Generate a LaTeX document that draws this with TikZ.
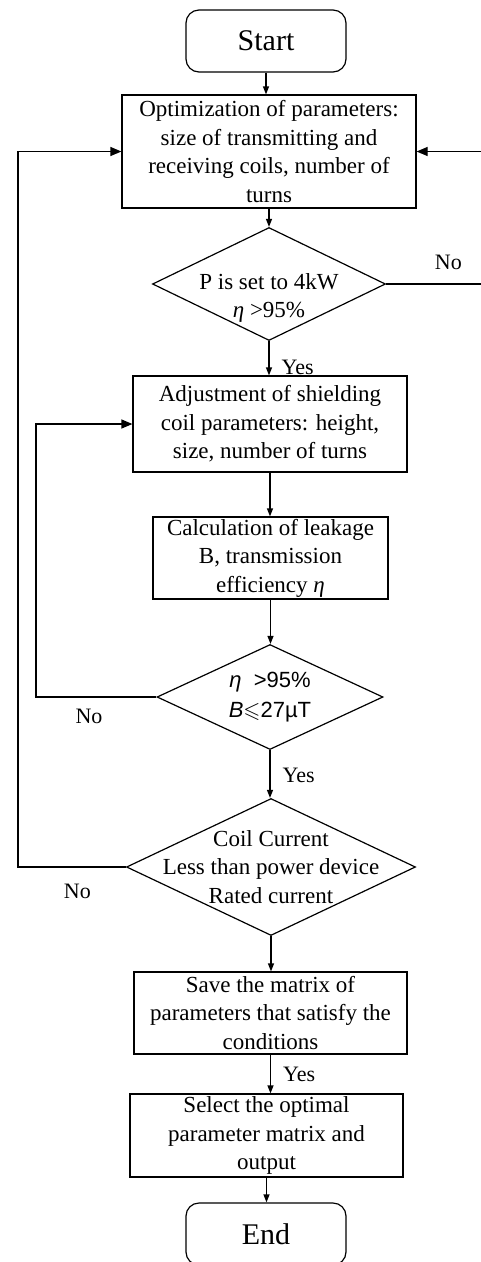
\documentclass[tikz,border=0pt]{standalone}
\usepackage{fontspec}
\usepackage{amssymb}
\setmainfont{Liberation Serif}
\newfontfamily\plainsans{Liberation Sans}
\usetikzlibrary{shapes.geometric,arrows.meta}

\tikzset{
  boxnode/.style={draw, rectangle, line width=1.2pt, align=center, inner sep=0pt,
    font=\fontsize{23}{28.5}\selectfont},
  termnode/.style={draw, rectangle, rounded corners=13pt, line width=1.2pt,
    minimum width=160pt, minimum height=62pt, font=\fontsize{30}{34}\selectfont},
  decide/.style={draw, diamond, line width=1.2pt, inner sep=0pt},
  decidetext/.style={align=center, inner sep=0pt, font=\fontsize{23}{28.5}\selectfont},
  arr/.style={-{Triangle[length=8pt,width=6pt]}, line width=1.2pt},
  backarr/.style={-{Triangle[length=11pt,width=9pt]}, line width=1.2pt},
  tag/.style={inner sep=2pt, font=\fontsize{22}{26}\selectfont}
}

\begin{document}
\begin{tikzpicture}[x=1pt, y=-1pt]
  \useasboundingbox (0,0) rectangle (480,1262);

  % Terminals
  \node[termnode] (start) at (266,41) {Start};
  \node[termnode] (end) at (266,1234) {End};

  % Process boxes
  \node[boxnode, minimum width=294pt, minimum height=113pt] (opt) at (269,151.5)
    {Optimization of parameters:\\ size of transmitting and\\ receiving coils, number of\\ turns};
  \node[boxnode, minimum width=274pt, minimum height=96pt] (adj) at (270,424)
    {Adjustment of shielding\\ coil parameters: height,\\ size, number of turns};
  \node[boxnode, minimum width=235pt, minimum height=82pt] (calc) at (270.5,558)
    {Calculation of leakage\\ B, transmission\\ efficiency {\itshape η}};
  \node[boxnode, minimum width=273pt, minimum height=82pt] (save) at (270.5,1013)
    {Save the matrix of\\ parameters that satisfy the\\ conditions};
  \node[boxnode, minimum width=273pt, minimum height=83pt] (sel) at (266.5,1135.5)
    {Select the optimal\\ parameter matrix and\\ output};

  % Decisions (text set on top of a fixed diamond)
  \node[decide, minimum width=233pt, minimum height=113pt] (d1) at (269,284) {};
  \node[decidetext] (d1txt) at ([yshift=-14pt]d1.center)
    {P is set to 4kW\\ {\itshape η} >95\%};
  \node[decide, minimum width=226pt, minimum height=105pt] (d2) at (270,697) {};
  \node[decidetext, font=\plainsans\fontsize{22}{30}\selectfont] (d2txt) at (d2.center)
    {\textit{η}\ \ >95\%\\ \textit{B}$\leqslant$27µT};
  \node[decide, minimum width=289pt, minimum height=137pt] (d3) at (271,867) {};
  \node[decidetext] (d3txt) at (d3.center)
    {Coil Current\\ Less than power device\\ Rated current};

  % Loop-back coordinates
  \coordinate (rt) at (482,0);
  \coordinate (lfa) at (18,0);
  \coordinate (lfb) at (36,0);

  % Main flow
  \draw[arr] (start.south) -- (start.south |- opt.north);
  \draw[arr] (opt.south) -- (opt.south |- d1.north);
  \draw[arr] (d1.south) -- node[tag, right=10pt, pos=0.76]{Yes} (d1.south |- adj.north);
  \draw[arr] (adj.south) -- (adj.south |- calc.north);
  \draw[arr] (calc.south) -- (calc.south |- d2.north);
  \draw[arr] (d2.south) -- node[tag, right=10pt, pos=0.52]{Yes} (d2.south |- d3.north);
  \draw[arr] (d3.south) -- (d3.south |- save.north);
  \draw[arr] (save.south) -- node[tag, right=10pt, pos=0.51]{Yes} (save.south |- sel.north);
  \draw[arr] (sel.south) -- (sel.south |- end.north);

  % No branches
  \draw[backarr] (d1.east) -- node[tag, above=12pt, pos=0.65]{No} (d1.east -| rt) |- (opt.east);
  \draw[backarr] (d2.west) -- node[tag, below=9pt, pos=0.56]{No} (d2.west -| lfb) |- (adj.west);
  \draw[backarr] (d3.west) -- node[tag, below=14pt, pos=0.45]{No} (d3.west -| lfa) |- (opt.west);

\end{tikzpicture}
\end{document}
